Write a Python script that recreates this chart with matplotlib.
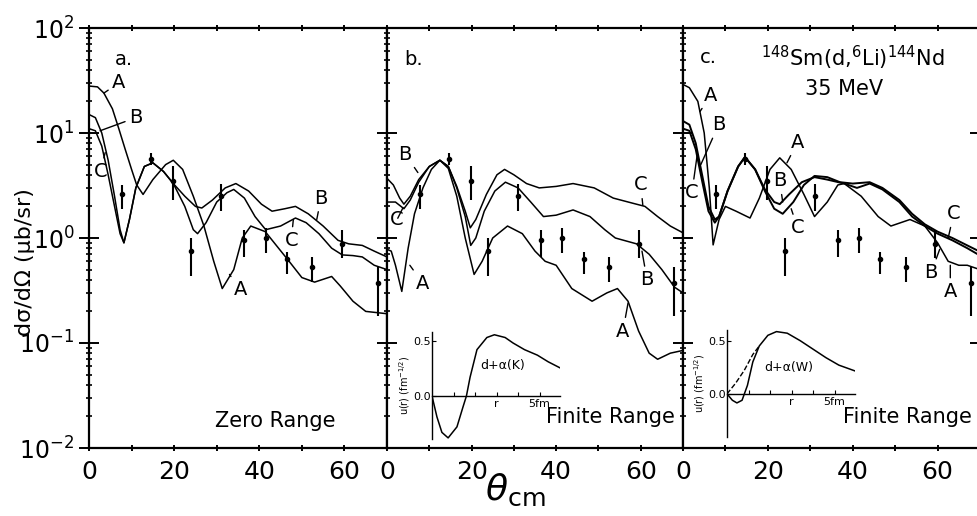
import matplotlib.pyplot as plt
import numpy as np
from matplotlib.ticker import LogLocator, NullFormatter, FixedLocator, FixedFormatter

plt.rcParams['font.family'] = ['DejaVu Sans']

# 実験値 (全パネル共通)
th_exp = [7.7, 14.6, 19.8, 24.0, 31.0, 36.5, 41.5, 46.5, 52.5, 59.5, 67.8]
sig_exp = [2.6, 5.6, 3.5, 0.75, 2.5, 0.95, 1.0, 0.63, 0.53, 0.88, 0.37]
sig_lo = [1.9, 5.0, 2.3, 0.43, 1.8, 0.66, 0.72, 0.45, 0.38, 0.64, 0.18]
sig_hi = [3.2, 6.5, 4.8, 1.0, 3.3, 1.19, 1.25, 0.74, 0.66, 1.2, 0.53]

# a. Zero Range
a_A_th = [0, 2, 3.5, 5.5, 7, 8.5, 10, 11.2, 12.7, 15, 18, 19.8, 22, 24.5, 27, 29.3, 31.3,
          34, 36, 38, 41.4, 44, 47, 50, 53, 57, 59, 62, 65, 70]
a_A_sig = [28, 27.5, 24, 17, 11, 7, 4.5, 3.2, 2.6, 3.6, 5.0, 5.5, 4.5, 2.5, 1.3, 0.6, 0.33,
           0.5, 1.0, 1.3, 1.15, 0.85, 0.6, 0.42, 0.38, 0.43, 0.35, 0.25, 0.2, 0.19]
a_B_th = [0, 1.5, 3, 4.5, 6, 7.3, 8.2, 9.5, 11, 13, 15, 17.5, 19.8, 22.5, 25, 26.5, 29, 32,
          34.5, 37.5, 40.5, 43, 46, 48.5, 51.5, 55, 58.5, 61, 64.2, 67, 70]
a_B_sig = [15, 14, 10, 5.5, 2.5, 1.2, 0.9, 1.5, 3, 4.8, 5.2, 4.3, 3.3, 2.5, 2.0, 1.93, 2.3, 3.0,
           3.3, 2.8, 2.1, 1.8, 1.9, 2.0, 1.7, 1.3, 0.95, 0.88, 0.85, 0.75, 0.66]
a_C_th = [0, 1.5, 3, 4.5, 6, 7.3, 8.2, 9.5, 11, 13, 15, 17.5, 19.8, 22.5, 24.5, 25.5, 27.5, 30,
          32.4, 34, 36.5, 39, 41.5, 45, 48.5, 51, 54, 57, 59.5, 62, 64.2, 67, 70]
a_C_sig = [11, 10.5, 7.5, 4, 2, 1.1, 0.9, 1.5, 3, 4.8, 5.2, 4.3, 3.3, 2.0, 1.2, 1.1, 1.4, 2.2,
           2.7, 2.9, 2.4, 1.6, 1.2, 1.3, 1.55, 1.4, 1.1, 0.8, 0.69, 0.68, 0.66, 0.55, 0.5]

# b. Finite Range d+a(K)
b_A_th = [0, 1, 2, 3.5, 5, 6.5, 8.5, 10.5, 12.5, 14.5, 16.5, 18.5, 20.6, 22.5, 25, 28.5, 32,
          35, 37.4, 40, 43.7, 48.5, 52, 54.5, 57, 59.5, 62, 64, 67, 70]
b_A_sig = [0.78, 0.75, 0.55, 0.31, 0.8, 1.7, 3.0, 4.5, 5.5, 4.6, 2.5, 1.0, 0.45, 0.6, 1.0, 1.3,
           1.1, 0.75, 0.6, 0.55, 0.33, 0.25, 0.3, 0.33, 0.25, 0.13, 0.08, 0.07, 0.08, 0.085]
b_B_th = [0, 1.5, 3, 4, 5.5, 7.5, 10, 12.5, 14.5, 16.5, 18.5, 19.8, 21, 23, 25.5, 28, 31, 34,
          37, 40, 44, 48, 51.5, 54, 59, 62, 65, 68, 70]
b_B_sig = [3.7, 3.2, 2.4, 2.1, 2.5, 3.6, 4.8, 5.5, 4.8, 3.0, 1.6, 0.85, 1.0, 1.8, 2.8, 3.4, 3.0,
           2.2, 1.6, 1.65, 1.85, 1.6, 1.2, 1.0, 0.88, 0.7, 0.5, 0.34, 0.3]
b_C_th = [0, 2, 4, 5.5, 7.5, 10, 12.5, 14.5, 16.5, 18.5, 19.7, 21, 23.5, 26, 27.8, 30, 33, 36,
          40, 44, 49, 53.5, 58, 61, 64, 67, 70]
b_C_sig = [2.2, 2.2, 1.9, 2.3, 3.4, 4.8, 5.5, 4.8, 3.1, 1.8, 1.25, 1.5, 2.6, 4.0, 4.5, 4.0, 3.3,
           3.0, 3.1, 3.3, 3.0, 2.4, 2.15, 2.0, 1.6, 1.3, 1.12]

# c. Finite Range d+a(W)
c_A_th = [0, 1.5, 3.5, 5, 6.2, 7.1, 8.5, 10, 12.5, 15.8, 18, 20.5, 22.8, 25.5, 28.5, 31, 34,
          36.5, 38, 42, 46, 49, 53.5, 57, 60, 62.5, 65, 67, 70]
c_A_sig = [29, 27, 20, 10, 3, 0.86, 1.5, 2.0, 1.8, 1.55, 2.4, 4.5, 5.8, 4.5, 2.6, 1.6, 2.2,
           3.2, 3.3, 2.5, 1.6, 1.3, 1.5, 1.3, 0.9, 0.6, 0.55, 0.55, 0.5]
c_B_th = [0, 1.5, 3, 4.5, 6, 7.5, 8.5, 10.5, 13, 14.6, 17, 19.3, 21.5, 22.8, 25, 28, 31, 34,
          38, 41, 44, 47, 51, 54, 57, 60, 63.5, 67, 70]
c_B_sig = [13, 12, 8, 4, 2, 1.5, 1.6, 2.8, 4.8, 5.9, 4.5, 2.9, 2.2, 2.1, 2.6, 3.4, 3.8, 3.6,
           3.3, 3.0, 3.3, 2.9, 2.2, 1.6, 1.3, 1.1, 0.95, 0.8, 0.68]
c_C_th = [0, 1.5, 3, 4.5, 6, 7.5, 8.5, 10.5, 13, 14.6, 17, 19.3, 21.5, 23.5, 26, 28.5, 31, 34,
          37, 40, 44, 47, 51, 54, 57, 60, 63.5, 67, 70]
c_C_sig = [11, 10.5, 7, 3.5, 1.8, 1.4, 1.6, 2.8, 4.8, 5.9, 4.5, 2.8, 1.9, 1.7, 2.2, 3.2, 3.9,
           3.8, 3.4, 3.3, 3.4, 3.0, 2.3, 1.7, 1.35, 1.15, 1.0, 0.85, 0.74]

# 挿入図: 波動関数 u(r)
ib_r = [0, 0.23, 0.46, 0.75, 1.16, 1.44, 1.6, 1.77, 2.09, 2.55, 2.9, 3.4, 3.77, 4.3, 4.9, 5.4, 5.95]
ib_u = [0, -0.19, -0.33, -0.38, -0.28, -0.1, 0.0, 0.17, 0.42, 0.53, 0.555, 0.53, 0.48, 0.42,
        0.37, 0.31, 0.255]
ic_r = [0, 0.25, 0.46, 0.7, 0.95, 1.2, 1.5, 1.9, 2.3, 2.8, 3.4, 4.0, 4.6, 5.2, 5.93]
ic_u = [0, -0.06, -0.085, -0.06, 0.08, 0.30, 0.45, 0.55, 0.585, 0.57, 0.5, 0.42, 0.34, 0.27, 0.217]
ic2_r = [0, 0.4, 0.8, 1.2, 1.5]
ic2_u = [0, 0.1, 0.22, 0.37, 0.45]

W, H = 978, 516
fig = plt.figure(figsize=(W / 100, H / 100), dpi=100)

def frac(x0, y0, x1, y1):
    return [x0 / W, 1 - y1 / H, (x1 - x0) / W, (y1 - y0) / H]

axs = [fig.add_axes(frac(89, 28, 387, 448)),
       fig.add_axes(frac(387, 28, 683, 448)),
       fig.add_axes(frac(683, 28, 980, 448))]

curves = [
    [(a_A_th, a_A_sig), (a_B_th, a_B_sig), (a_C_th, a_C_sig)],
    [(b_A_th, b_A_sig), (b_B_th, b_B_sig), (b_C_th, b_C_sig)],
    [(c_A_th, c_A_sig), (c_B_th, c_B_sig), (c_C_th, c_C_sig)],
]

for i, ax in enumerate(axs):
    ax.set_yscale('log')
    ax.set_ylim(1e-2, 1e2)
    ax.set_xlim(0, 70)
    for sp in ax.spines.values():
        sp.set_linewidth(1.6)
    for j, (th, sig) in enumerate(curves[i]):
        lw = 1.4 if (i == 2 and j > 0) else 1.1
        ax.plot(th, sig, color='black', lw=lw)
    yerr = [np.array(sig_exp) - np.array(sig_lo), np.array(sig_hi) - np.array(sig_exp)]
    ax.errorbar(th_exp, sig_exp, yerr=yerr, fmt='o', ms=3, color='black',
                elinewidth=1.5, capsize=0)
    ax.yaxis.set_major_locator(LogLocator(base=10, numticks=10))
    ax.yaxis.set_minor_locator(LogLocator(base=10, subs=np.arange(2, 10), numticks=10))
    ax.yaxis.set_minor_formatter(NullFormatter())
    ax.xaxis.set_major_locator(FixedLocator([0, 10, 20, 30, 40, 50, 60]))
    ax.xaxis.set_major_formatter(FixedFormatter(['0', '', '20', '', '40', '', '60']))
    ax.tick_params(axis='x', which='major', direction='inout', length=5, width=1.4,
                   top=True, labelsize=18, pad=6)
    ax.tick_params(axis='y', which='major', direction='inout', length=14, width=1.4,
                   right=(i == 2), labelsize=17)
    ax.tick_params(axis='y', which='minor', direction='inout', length=5, width=1.2,
                   right=(i == 2))
    if i > 0:
        ax.tick_params(axis='y', labelleft=False)

def lab(ax, s, xt, yt, xc, yc):
    ax.annotate(s, xy=(xc, yc), xytext=(xt, yt), ha='center', va='center', fontsize=14,
                arrowprops=dict(arrowstyle='-', lw=1.0, color='black', shrinkA=1, shrinkB=0))

a, b, c = axs
a.text(6, 50, 'a.', fontsize=14, ha='left', va='center')
b.text(4, 50, 'b.', fontsize=14, ha='left', va='center')
c.text(4, 52, 'c.', fontsize=14, ha='left', va='center')

lab(a, 'A', 7.0, 30, 3.5, 24)
lab(a, 'B', 11.0, 14, 2.6, 10.5)
lab(a, 'C', 2.7, 4.3, 3.8, 6.5)
lab(a, 'B', 54.5, 2.4, 53.5, 1.5)
lab(a, 'C', 47.5, 0.95, 48.0, 1.5)
lab(a, 'A', 35.5, 0.32, 33.0, 0.45)

lab(b, 'B', 4.3, 6.3, 7.3, 4.2)
lab(b, 'C', 2.4, 1.5, 3.8, 1.95)
lab(b, 'A', 8.5, 0.37, 5.4, 0.55)
lab(b, 'C', 60.0, 3.2, 60.5, 2.05)
lab(b, 'B', 61.5, 0.4, 60.3, 0.75)
lab(b, 'A', 55.8, 0.13, 57.0, 0.24)

lab(c, 'A', 6.6, 23, 4.0, 16)
lab(c, 'B', 8.4, 12, 4.2, 5)
lab(c, 'C', 2.1, 2.7, 3.3, 6.0)
lab(c, 'A', 27.0, 8.2, 24.5, 5.2)
lab(c, 'B', 22.8, 3.5, 23.5, 2.2)
lab(c, 'C', 27.0, 1.25, 25.5, 1.9)
lab(c, 'C', 63.8, 1.7, 62.5, 1.0)
lab(c, 'B', 58.5, 0.47, 60.5, 0.78)
lab(c, 'A', 63.0, 0.31, 63.0, 0.55)

a.text(58, 1.45e-2, 'Zero Range', fontsize=15, ha='right', va='bottom')
b.text(68, 1.6e-2, 'Finite Range', fontsize=15, ha='right', va='bottom')
c.text(68, 1.6e-2, 'Finite Range', fontsize=15, ha='right', va='bottom')

c.text(40, 52, r'$^{148}$Sm(d,$^{6}$Li)$^{144}$Nd', fontsize=15, ha='center', va='center')
c.text(38, 26, '35 MeV', fontsize=15, ha='center', va='center')

fig.text(25 / W, 1 - 262 / H, 'dσ/dΩ (μb/sr)', rotation=90, fontsize=16,
         ha='center', va='center')
fig.text(515 / W, 1 - 490 / H, r'$\theta_{\rm cm}$', fontsize=26, ha='center', va='center')

# 挿入図
def inset(rect, ylim, xs, us, txt, txt_xy, dashed=None):
    ins = fig.add_axes(rect)
    ins.patch.set_visible(False)
    ins.set_xlim(0, 5.95)
    ins.set_ylim(*ylim)
    ins.spines['top'].set_visible(False)
    ins.spines['right'].set_visible(False)
    ins.spines['bottom'].set_position(('data', 0))
    for sp in ins.spines.values():
        sp.set_linewidth(1.0)
    ins.plot(xs, us, color='black', lw=1.1)
    if dashed is not None:
        ins.plot(dashed[0], dashed[1], color='black', lw=1.0, ls='--')
    ins.set_xticks([1, 2, 3, 4, 5])
    ins.set_xticklabels(['', '', 'r', '', '5fm'])
    ins.set_yticks([0.0, 0.5])
    ins.set_yticklabels(['0.0', '0.5'])
    ins.tick_params(axis='x', direction='in', length=3, labelsize=8, pad=2)
    ins.tick_params(axis='y', direction='in', length=3, labelsize=8, pad=1)
    ins.set_ylabel(r'u(r) (fm$^{-1/2}$)', fontsize=7, labelpad=1)
    ins.text(txt_xy[0], txt_xy[1], txt, fontsize=9, ha='center', va='center')
    return ins

inset(frac(432, 332, 560, 439), (-0.39, 0.58), ib_r, ib_u, 'd+α(K)', (3.3, 0.28))
inset(frac(727, 330, 855, 437), (-0.405, 0.6), ic_r, ic_u, 'd+α(W)', (2.85, 0.25),
      dashed=(ic2_r, ic2_u))

fig.savefig('out.png', dpi=100)
